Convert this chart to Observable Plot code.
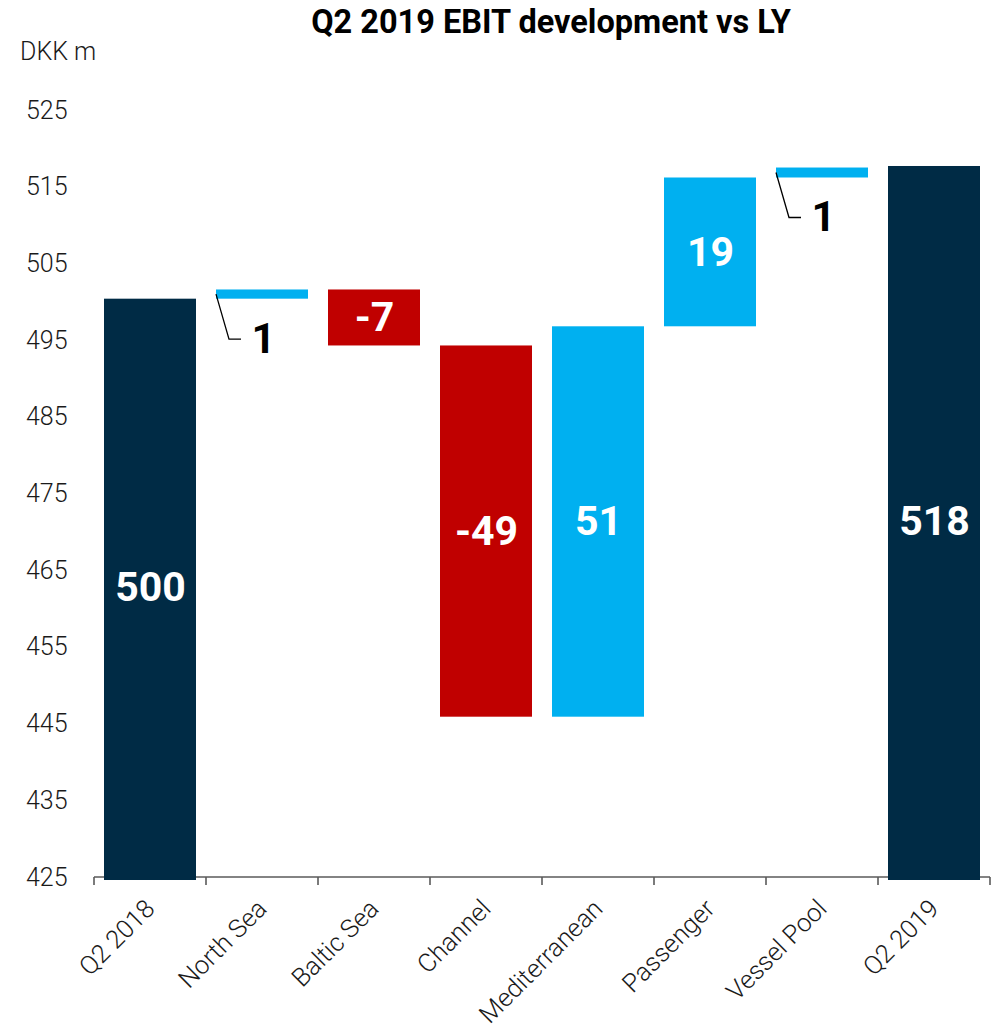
<!DOCTYPE html>
<html><head><meta charset="utf-8">
<script src="https://cdn.jsdelivr.net/npm/d3@7"></script>
<script src="https://cdn.jsdelivr.net/npm/@observablehq/plot@0.6"></script>
<style>
html,body{margin:0;padding:0;background:#fff;}
#wrap{position:relative;width:995px;height:1030px;font-family:Roboto,"Noto Sans",sans-serif;}
#title{position:absolute;top:6px;left:107px;width:888px;text-align:center;font-weight:700;font-size:32.5px;line-height:32px;color:#000;white-space:nowrap;}
#unit{position:absolute;top:39px;left:20px;font-size:25px;line-height:25px;font-weight:300;color:#1a1a1a;}
#chart{position:absolute;top:68px;left:0;}
</style></head><body>
<div id="wrap"><div id="title">Q2 2019 EBIT development vs LY</div><div id="unit">DKK m</div><div id="chart"></div></div>
<script>
const categories = ["Q2 2018","North Sea","Baltic Sea","Channel","Mediterranean","Passenger","Vessel Pool","Q2 2019"];
const kinds = ["total","delta","delta","delta","delta","delta","delta","total"];
const values = [500.4, 1.2, -7.3, -48.4, 50.9, 19.4, 1.3, 517.7];
const valueLabels = ["500","1","-7","-49","51","19","1","518"];
const calloutCategories = ["North Sea","Vessel Pool"];
const yTicks = [425,435,445,455,465,475,485,495,505,515,525];
const yMin = 425, yMax = 525;
const colors = {total:"#002B45", up:"#00B0F0", down:"#C00000"};

let running = 0;
const rows = categories.map((c,i)=>{
  let y1,y2,type;
  if (kinds[i]==="total"){ y1=yMin; y2=values[i]; running=values[i]; type="total"; }
  else { y1=running; y2=running+values[i]; running=y2; type = values[i]>=0?"up":"down"; }
  return {category:c, y1, y2, type, color:colors[type], label:valueLabels[i], mid:(y1+y2)/2, callout: calloutCategories.includes(c)};
});

function baseAxis(index, scales, vals, dims) {
  const x = scales.x, y = scales.y;
  const half = (x.step() - x.bandwidth())/2;
  const dom = x.domain();
  const edges = dom.map(d => x(d) - half).concat([x(dom[dom.length-1]) + x.bandwidth() + half]);
  const y0 = y(yMin);
  const g = d3.create("svg:g").attr("stroke","#5a5a5a").attr("stroke-width",1.6);
  g.append("line").attr("x1",edges[0]).attr("x2",edges[edges.length-1]).attr("y1",y0).attr("y2",y0);
  for (const e of edges) g.append("line").attr("x1",e).attr("x2",e).attr("y1",y0).attr("y2",y0+8);
  return g.node();
}
function leaders(index, scales) {
  const g = d3.create("svg:g").attr("fill","none").attr("stroke","#000").attr("stroke-width",1.3);
  for (const d of rows.filter(r=>r.callout)) {
    const x0 = scales.x(d.category), y0 = scales.y(d.mid);
    g.append("path").attr("d", `M${x0},${y0}L${x0+13},${y0+45}H${x0+25}`);
  }
  return g.node();
}

const chart = Plot.plot({
  width: 995, height: 962,
  marginLeft: 92, marginRight: 4, marginTop: 42, marginBottom: 153,
  style: {fontFamily: "Roboto, 'Noto Sans', sans-serif", fontSize: "25px", fontWeight: 300, color: "#1a1a1a", background: "#fff"},
  x: {domain: categories, paddingInner: 0.18, paddingOuter: 0.09, label: null},
  y: {domain: [yMin, yMax], label: null},
  color: {type: "identity"},
  marks: [
    Plot.axisY({ticks: yTicks, tickSize: 0, tickPadding: 25, label: null, fontSize: 25}),
    Plot.axisX({tickSize: 0, tickPadding: 27, tickRotate: -45, label: null, fontSize: 25.5}),
    baseAxis,
    Plot.rectY(rows.filter(d=>d.type==="total"), {x:"category", y1:"y1", y2:"y2", fill:"color", insetBottom:-3}),
    Plot.rectY(rows.filter(d=>d.type!=="total"), {x:"category", y1:"y1", y2:"y2", fill:"color"}),
    Plot.text(rows.filter(d=>!d.callout), {x:"category", y:"mid", text:"label", fill:"#fff", fontSize:41, fontWeight:700}),
    leaders,
    Plot.text(rows.filter(d=>d.callout), {x:"category", y:"mid", text:"label", fill:"#000", fontSize:42, fontWeight:700, textAnchor:"start", dx:-11, dy:45})
  ]
});
document.getElementById("chart").appendChild(chart);
</script>
</body></html>
